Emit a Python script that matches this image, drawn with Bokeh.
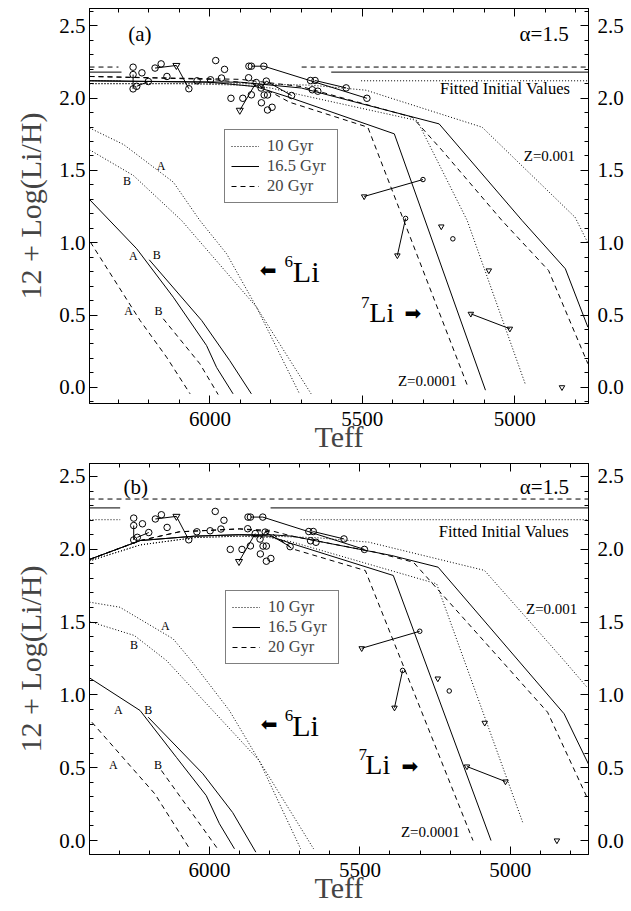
from bokeh.plotting import figure
from bokeh.models import (Range1d, LinearAxis, FixedTicker, PrintfTickFormatter,
                          Label, Legend, LegendItem)
from bokeh.layouts import column
from bokeh.embed import file_html
from bokeh.resources import INLINE

# ---------------- observations (same in both panels) ----------------
warm_circ_teff = [6252, 6252, 6223, 6252, 6240, 6202, 6180, 6160, 6069, 6141,
                  6042, 5998, 5962, 5981, 5952, 5873, 5872, 5864, 5823, 5931,
                  5892, 5864, 5848, 5832, 5815, 5822, 5811, 5831, 5811, 5796,
                  5732, 5670, 5655, 5553, 5485, 5664, 5646]
warm_circ_li = [2.214, 2.163, 2.175, 2.064, 2.082, 2.115, 2.208, 2.237, 2.065, 2.150,
                2.120, 2.127, 2.139, 2.260, 2.199, 2.141, 2.221, 2.221, 2.221, 1.999,
                1.999, 2.023, 2.108, 2.070, 2.118, 2.022, 2.022, 1.968, 1.918, 1.937,
                2.018, 2.122, 2.122, 2.071, 1.999, 2.058, 2.048]
warm_tri_teff = [6110, 5902]
warm_tri_li = [2.226, 1.916]
# links: (kind, index) pairs, kind "c" = circle, "t" = upper limit triangle
warm_links = [(("c", 1), ("c", 3)), (("c", 4), ("c", 5)), (("c", 6), ("t", 0)),
              (("t", 0), ("c", 8)), (("c", 17), ("c", 18)), (("c", 18), ("c", 34)),
              (("c", 32), ("c", 33)), (("t", 1), ("c", 22)), (("c", 23), ("c", 24)),
              (("c", 24), ("c", 30))]

cool_circ_teff = [5301, 5358, 5203]
cool_circ_li = [1.437, 1.168, 1.027]
cool_tri_teff = [5494, 5385, 5241, 5085, 5144, 5016, 4845]
cool_tri_li = [1.320, 0.912, 1.112, 0.808, 0.508, 0.405, 0.0]
cool_links = [(("c", 0), ("t", 0)), (("c", 1), ("t", 1)), (("t", 4), ("t", 5))]

# ---------------- panel (a) models ----------------
a_z4_10_teff = [6395, 6100, 5900, 5800, 5740, 5320, 5156, 4965]
a_z4_10_li = [2.10, 2.10, 2.09, 2.07, 2.04, 1.845, 1.154, 0.02]
a_z4_16_teff = [6395, 6000, 5850, 5740, 5395, 5096]
a_z4_16_li = [2.12, 2.11, 2.08, 2.006, 1.753, -0.02]
a_z4_20_teff = [6395, 6000, 5850, 5739, 5482, 5153]
a_z4_20_li = [2.15, 2.13, 2.10, 1.972, 1.799, 0.0]
a_z3_10_teff = [6395, 5900, 5670, 5488, 5107, 4802, 4758]
a_z3_10_li = [2.10, 2.10, 2.09, 2.055, 1.799, 1.176, 0.99]
a_z3_16_teff = [6395, 5900, 5700, 5248, 4976, 4834, 4760]
a_z3_16_li = [2.12, 2.11, 2.07, 1.822, 1.154, 0.82, 0.416]
a_z3_20_teff = [6395, 5900, 5700, 5336, 5238, 5042, 4889, 4760]
a_z3_20_li = [2.15, 2.13, 2.08, 1.868, 1.638, 1.154, 0.808, 0.163]

a6_10A_teff = [6395, 6283, 6120, 6033, 5945, 5847, 5706]
a6_10A_li = [1.794, 1.679, 1.419, 1.154, 0.923, 0.554, -0.045]
a6_10B_teff = [6395, 6251, 6093, 5847, 5668]
a6_10B_li = [1.643, 1.465, 1.154, 0.554, -0.045]
a6_16A_teff = [6395, 6240, 6120, 6011, 5978, 5924]
a6_16A_li = [1.299, 0.958, 0.623, 0.289, 0.137, -0.045]
a6_16B_teff = [6199, 6027, 5935, 5864]
a6_16B_li = [0.882, 0.462, 0.185, -0.045]
a6_20A_teff = [6392, 6229, 6142, 6065]
a6_20A_li = [1.004, 0.462, 0.208, -0.045]
a6_20B_teff = [6153, 6033, 5973]
a6_20B_li = [0.474, 0.163, -0.05]

# fitted initial values: level, end of left piece, start of right piece (10, 16.5, 20 Gyr)
a_fit_li = [2.12, 2.18, 2.215]
a_fit_left_end = [6290, 6290, 6300]
a_fit_right_start = [5504, 5602, 5699]

# ---------------- panel (b) models ----------------
b_z4_10_teff = [6399, 6230, 6050, 5900, 5800, 5725, 5245, 4959]
b_z4_10_li = [1.92, 2.03, 2.08, 2.09, 2.08, 2.05, 1.763, 0.126]
b_z4_16_teff = [6399, 6230, 6050, 5900, 5800, 5725, 5389, 5064]
b_z4_16_li = [1.93, 2.06, 2.09, 2.10, 2.09, 2.038, 1.82, 0.0]
b_z4_20_teff = [6399, 6230, 6100, 5900, 5800, 5725, 5482, 5124]
b_z4_20_li = [1.93, 2.06, 2.12, 2.14, 2.12, 2.003, 1.854, 0.0]
b_z3_10_teff = [6399, 6230, 6050, 5900, 5800, 5648, 5471, 5086, 4821, 4745]
b_z3_10_li = [1.92, 2.03, 2.08, 2.09, 2.09, 2.08, 2.049, 1.855, 1.236, 1.053]
b_z3_16_teff = [6399, 6230, 6050, 5900, 5800, 5725, 5394, 5240, 4821, 4735]
b_z3_16_li = [1.93, 2.06, 2.09, 2.10, 2.10, 2.09, 1.957, 1.877, 0.870, 0.503]
b_z3_20_teff = [6399, 6230, 6100, 5900, 5800, 5725, 5449, 5322, 4876, 4735]
b_z3_20_li = [1.93, 2.06, 2.12, 2.14, 2.13, 2.09, 1.98, 1.911, 0.881, 0.252]

b6_10A_teff = [6399, 6298, 6121, 6061, 5934, 5835, 5697]
b6_10A_li = [1.637, 1.602, 1.385, 1.236, 0.893, 0.549, -0.057]
b6_10B_teff = [6399, 6250, 6143, 5835, 5654]
b6_10B_li = [1.504, 1.408, 1.236, 0.549, -0.057]
b6_16A_teff = [6399, 6231, 6110, 6011, 5967, 5917]
b6_16A_li = [1.117, 0.893, 0.571, 0.309, 0.115, -0.057]
b6_16B_teff = [6204, 6022, 5923, 5846]
b6_16B_li = [0.847, 0.458, 0.192, -0.08]
b6_20A_teff = [6391, 6182, 6066]
b6_20A_li = [0.812, 0.321, -0.057]
b6_20B_teff = [6160, 5973]
b6_20B_li = [0.481, -0.057]

b_fit_li = [2.203, 2.284, 2.345]
b_fit_left_end = [6297, 6297, 4740]
b_fit_right_start = [5697, 5797, 4740]

x_ticks = [5000, 5500, 6000]
y_ticks = [0.0, 0.5, 1.0, 1.5, 2.0, 2.5]
legend_labels = ["10 Gyr", "16.5 Gyr", "20 Gyr"]

SERIF = "Liberation Serif"
DOT = "1 2"
DASH = "5 4"
DASHES = [DOT, "solid", DASH]


def style_axis(ax, ticker, fmt, size="21px", standoff=5):
    ax.ticker = ticker
    ax.formatter = PrintfTickFormatter(format=fmt)
    ax.major_tick_in = 8
    ax.major_tick_out = 0
    ax.minor_tick_in = 4
    ax.minor_tick_out = 0
    ax.axis_line_color = "black"
    ax.major_tick_line_color = "black"
    ax.minor_tick_line_color = "black"
    ax.major_label_text_font = SERIF
    ax.major_label_text_color = "black"
    ax.major_label_text_font_size = size
    ax.major_label_standoff = standoff


def top_axis(minor, length):
    ax = LinearAxis(ticker=FixedTicker(ticks=[], minor_ticks=minor))
    ax.minor_tick_in = length
    ax.minor_tick_out = 0
    ax.major_tick_in = 0
    ax.major_tick_out = 0
    ax.axis_line_color = "black"
    ax.minor_tick_line_color = "black"
    return ax


def make_panel(xr, yr, W, H, bl, br, bt, bb, models, six, fit, txt, legend_loc):
    p = figure(width=W, height=H, x_range=Range1d(*xr), y_range=Range1d(*yr),
               output_backend="svg", toolbar_location=None,
               min_border_left=bl, min_border_right=br, min_border_top=bt,
               min_border_bottom=bb)
    p.grid.visible = False
    p.outline_line_color = "black"
    xt = FixedTicker(ticks=x_ticks, minor_ticks=list(range(4800, 6401, 100)))
    yt = FixedTicker(ticks=y_ticks, minor_ticks=[i / 10 for i in range(-1, 27)])
    style_axis(p.xaxis[0], xt, "%d", standoff=8)
    style_axis(p.yaxis[0], yt, "%.1f", standoff=4)
    p.xaxis[0].axis_label = "Teff"
    p.xaxis[0].axis_label_text_font = SERIF
    p.xaxis[0].axis_label_text_font_style = "normal"
    p.xaxis[0].axis_label_text_font_size = "30px"
    p.xaxis[0].axis_label_standoff = -9
    p.yaxis[0].axis_label = "12 + Log(Li/H)"
    p.yaxis[0].axis_label_text_font = SERIF
    p.yaxis[0].axis_label_text_font_style = "normal"
    p.yaxis[0].axis_label_text_font_size = "30px"
    p.yaxis[0].axis_label_standoff = 9
    p.add_layout(top_axis(list(range(4800, 6401, 100)), 4), "above")
    p.add_layout(top_axis(x_ticks, 8), "above")
    right = LinearAxis()
    style_axis(right, yt, "%.1f", standoff=9)
    p.add_layout(right, "right")

    # fitted initial values
    for lvl, le, rs, dash in zip(fit[0], fit[1], fit[2], DASHES):
        p.line([xr[0], le], [lvl, lvl], line_color="black", line_width=1, line_dash=dash)
        p.line([rs, xr[1]], [lvl, lvl], line_color="black", line_width=1, line_dash=dash)

    # 7Li models
    rs_leg = []
    for (tx, ly), dash in zip(models, DASHES * 2):
        r = p.line(tx, ly, line_color="black", line_width=1, line_dash=dash)
        rs_leg.append(r)
    # 6Li models
    for (tx, ly), dash in zip(six, [DOT, DOT, "solid", "solid", DASH, DASH]):
        p.line(tx, ly, line_color="black", line_width=1, line_dash=dash)

    # observations
    def pick(kind, i, ct, cl, tt, tl):
        return (ct[i], cl[i]) if kind == "c" else (tt[i], tl[i])

    for links, ct, cl, tt, tl in [(warm_links, warm_circ_teff, warm_circ_li, warm_tri_teff, warm_tri_li),
                                  (cool_links, cool_circ_teff, cool_circ_li, cool_tri_teff, cool_tri_li)]:
        x0, y0, x1, y1 = [], [], [], []
        for (k0, i0), (k1, i1) in links:
            a = pick(k0, i0, ct, cl, tt, tl)
            b = pick(k1, i1, ct, cl, tt, tl)
            x0.append(a[0]); y0.append(a[1]); x1.append(b[0]); y1.append(b[1])
        p.segment(x0, y0, x1, y1, line_color="black", line_width=1)
    p.scatter(warm_circ_teff, warm_circ_li, marker="circle", size=6.5, fill_alpha=0,
              line_color="black", line_width=1)
    p.scatter(warm_tri_teff, warm_tri_li, marker="inverted_triangle", size=7, fill_alpha=0,
              line_color="black", line_width=1)
    p.scatter(cool_circ_teff, cool_circ_li, marker="circle", size=4.5, fill_alpha=0,
              line_color="black", line_width=1)
    p.scatter(cool_tri_teff, cool_tri_li, marker="inverted_triangle", size=5.5, fill_alpha=0,
              line_color="black", line_width=1)

    for (x, y, s, size, align, font) in txt:
        p.add_layout(Label(x=x, y=y, text=s, text_font=font, text_font_size=size,
                           text_align=align, text_baseline="middle", text_color="black"))

    leg = Legend(items=[LegendItem(label=lab, renderers=[r]) for lab, r in zip(legend_labels, rs_leg[:3])],
                 location=legend_loc, orientation="vertical")
    leg.label_text_font = SERIF
    leg.label_text_font_size = "16.5px"
    leg.glyph_width = 28
    leg.glyph_height = 14
    leg.label_height = 14
    leg.label_width = 64
    leg.label_standoff = 8
    leg.spacing = 0
    leg.padding = 6
    leg.margin = 0
    leg.border_line_color = "black"
    leg.border_line_width = 1
    leg.background_fill_alpha = 1
    p.add_layout(leg)
    return p


a_models = [(a_z4_10_teff, a_z4_10_li), (a_z4_16_teff, a_z4_16_li), (a_z4_20_teff, a_z4_20_li),
            (a_z3_10_teff, a_z3_10_li), (a_z3_16_teff, a_z3_16_li), (a_z3_20_teff, a_z3_20_li)]
a_six = [(a6_10A_teff, a6_10A_li), (a6_10B_teff, a6_10B_li), (a6_16A_teff, a6_16A_li),
         (a6_16B_teff, a6_16B_li), (a6_20A_teff, a6_20A_li), (a6_20B_teff, a6_20B_li)]
a_txt = [
    (6268, 2.447, "(a)", "21px", "left", SERIF),
    (4823, 2.447, "α=1.5", "21px", "right", SERIF),
    (4818, 2.064, "Fitted Initial Values", "16.5px", "right", SERIF),
    (4802, 1.603, "Z=0.001", "15px", "right", SERIF),
    (5190, 0.047, "Z=0.0001", "15px", "right", SERIF),
    (6160, 1.534, "A", "12px", "center", SERIF), (6272, 1.43, "B", "12px", "center", SERIF),
    (6251, 0.907, "A", "12px", "center", SERIF), (6174, 0.912, "B", "12px", "center", SERIF),
    (6267, 0.531, "A", "12px", "center", SERIF), (6169, 0.531, "B", "12px", "center", SERIF),
    (5809, 0.808, "⬅", "20px", "center", "DejaVu Sans"),
    (5755, 0.87, "6", "17px", "left", SERIF),
    (5728, 0.80, "Li", "30px", "left", SERIF),
    (5334, 0.517, "➡", "20px", "center", "DejaVu Sans"),
    (5504, 0.59, "7", "17px", "left", SERIF),
    (5477, 0.52, "Li", "28px", "left", SERIF),
]

b_models = [(b_z4_10_teff, b_z4_10_li), (b_z4_16_teff, b_z4_16_li), (b_z4_20_teff, b_z4_20_li),
            (b_z3_10_teff, b_z3_10_li), (b_z3_16_teff, b_z3_16_li), (b_z3_20_teff, b_z3_20_li)]
b_six = [(b6_10A_teff, b6_10A_li), (b6_10B_teff, b6_10B_li), (b6_16A_teff, b6_16A_li),
         (b6_16B_teff, b6_16B_li), (b6_20A_teff, b6_20A_li), (b6_20B_teff, b6_20B_li)]
b_txt = [
    (6286, 2.427, "(b)", "21px", "left", SERIF),
    (4805, 2.427, "α=1.5", "21px", "right", SERIF),
    (4805, 2.122, "Fitted Initial Values", "16.5px", "right", SERIF),
    (4777, 1.591, "Z=0.001", "15px", "right", SERIF),
    (5168, 0.057, "Z=0.0001", "15px", "right", SERIF),
    (6147, 1.472, "A", "12px", "center", SERIF), (6251, 1.346, "B", "12px", "center", SERIF),
    (6303, 0.898, "A", "12px", "center", SERIF), (6204, 0.898, "B", "12px", "center", SERIF),
    (6320, 0.522, "A", "12px", "center", SERIF), (6171, 0.522, "B", "12px", "center", SERIF),
    (5802, 0.801, "⬅", "20px", "center", "DejaVu Sans"),
    (5750, 0.86, "6", "17px", "left", SERIF),
    (5725, 0.79, "Li", "30px", "left", SERIF),
    (5334, 0.515, "➡", "20px", "center", "DejaVu Sans"),
    (5505, 0.59, "7", "17px", "left", SERIF),
    (5482, 0.52, "Li", "28px", "left", SERIF),
]

pa = make_panel((6395, 4758), (-0.112, 2.62), 631, 460, 89, 41, 8, 57,
                a_models, a_six, (a_fit_li, a_fit_left_end, a_fit_right_start), a_txt, (135, 200))
pb = make_panel((6399, 4740), (-0.096, 2.589), 631, 451, 86, 43, 3, 57,
                b_models, b_six, (b_fit_li, b_fit_left_end, b_fit_right_start), b_txt, (136, 190))

layout = column(pa, pb, spacing=0)
open("out.html", "w").write(file_html(layout, INLINE))
